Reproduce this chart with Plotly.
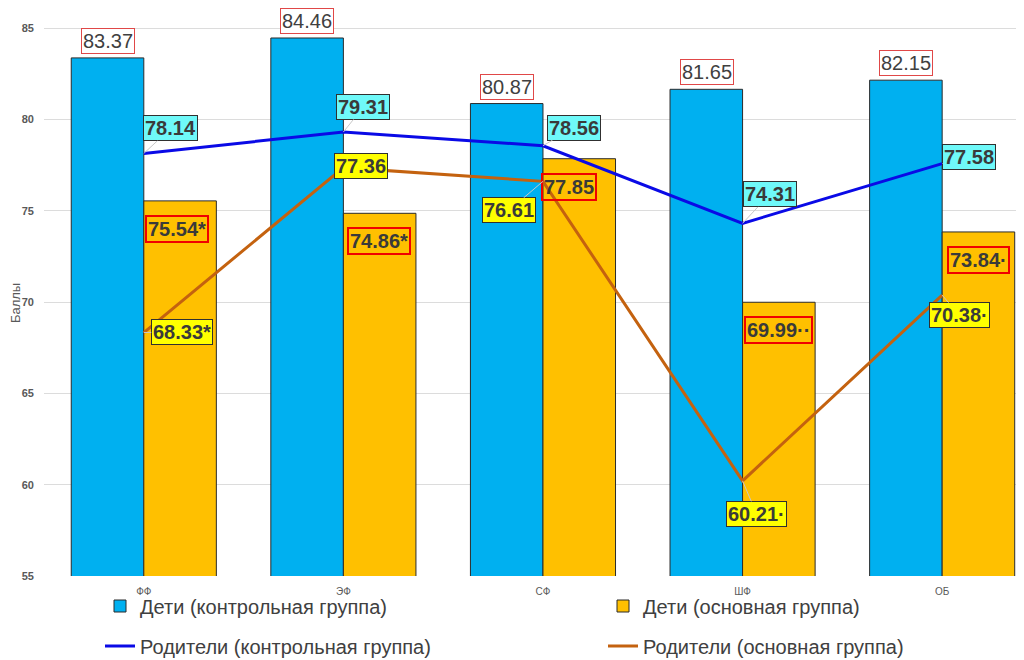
import plotly.graph_objects as go

categories = ["ФФ", "ЭФ", "СФ", "ШФ", "ОБ"]
kids_control = [83.37, 84.46, 80.87, 81.65, 82.15]
kids_main = [75.54, 74.86, 77.85, 69.99, 73.84]
parents_control = [78.14, 79.31, 78.56, 74.31, 77.58]
parents_main = [68.33, 77.36, 76.61, 60.21, 70.38]

kids_main_marks = ["*", "*", "", "··", "·"]
parents_main_marks = ["*", "", "", "·", "·"]

y_ticks = [55, 60, 65, 70, 75, 80, 85]

FONT = "Liberation Sans, Arial, sans-serif"
TXT = "#404040"
LBL = dict(family=FONT, size=20, color=TXT)
LBLB = dict(family=FONT, size=20, color="#3a3a3a", weight="bold")

fig = go.Figure()
fig.add_trace(go.Bar(
    x=categories, y=kids_control, name="Дети (контрольная группа)",
    marker=dict(color="#00B0F0", line=dict(color="#2b2b2b", width=1)),
    legend="legend", showlegend=True,
))
fig.add_trace(go.Bar(
    x=categories, y=kids_main, name="Дети (основная группа)",
    marker=dict(color="#FFC000", line=dict(color="#2b2b2b", width=1)),
    legend="legend2", showlegend=True,
))
fig.add_trace(go.Scatter(
    x=categories, y=parents_control, name="Родители (контрольная группа)",
    mode="lines", line=dict(color="#0A0AE6", width=3),
    legend="legend3", showlegend=True,
))
fig.add_trace(go.Scatter(
    x=categories, y=parents_main, name="Родители (основная группа)",
    mode="lines", line=dict(color="#C4620F", width=3),
    legend="legend4", showlegend=True,
))

annotations = []
# blue bar labels (above bars)
for i, v in enumerate(kids_control):
    annotations.append(dict(
        x=i, y=v, xref="x", yref="y", text=f"{v:.2f}", showarrow=False,
        xshift=-36, yshift=17, font=LBL,
        bgcolor="white", bordercolor="#E04848", borderwidth=1, borderpad=1,
    ))
# orange bar labels (inside, near top)
kids_main_shift = [-3, 0, -10, 0, 0]
for i, v in enumerate(kids_main):
    annotations.append(dict(
        x=i, y=v, xref="x", yref="y", text=f"{v:.2f}{kids_main_marks[i]}", showarrow=False,
        xshift=36 + kids_main_shift[i], yshift=-28, font=LBLB,
        bordercolor="#F00000", borderwidth=2, borderpad=1,
    ))
# blue line labels
pc_off = [(27, -25), (20, -25), (31, -18), (27, -29), (27, -7)]
for i, v in enumerate(parents_control):
    ax, ay = pc_off[i]
    annotations.append(dict(
        x=i, y=v, xref="x", yref="y", text=f"{v:.2f}", showarrow=True,
        arrowhead=0, arrowwidth=1, arrowcolor="#C8C8C8", ax=ax, ay=ay, font=LBLB,
        bgcolor="#6FF9F9", bordercolor="#303030", borderwidth=1, borderpad=1,
    ))
# orange line labels
pm_off = [(38, -1), (18, -2), (-34, 29), (14, 33), (17, 20)]
for i, v in enumerate(parents_main):
    ax, ay = pm_off[i]
    annotations.append(dict(
        x=i, y=v, xref="x", yref="y", text=f"{v:.2f}{parents_main_marks[i]}", showarrow=True,
        arrowhead=0, arrowwidth=1, arrowcolor="#C8C8C8", ax=ax, ay=ay, font=LBLB,
        bgcolor="#FFFF00", bordercolor="#303030", borderwidth=1, borderpad=1,
    ))

# page offset of the figure inside the browser page
OFF = 8
L, T, PW, PH = 44 - OFF, 19 - OFF, 976, 557

annotations.append(dict(
    text="Баллы", xref="paper", yref="paper", x=(7 - L) / PW, y=0.49, showarrow=False,
    textangle=-90, font=dict(family=FONT, size=13, color="#595959"),
    xanchor="center", yanchor="middle",
))


def leg(px, py):
    # px, py: reference pixel where the legend box starts / row centre
    fx, fy = px - OFF, py - OFF
    return dict(
        orientation="h", x=(fx - L) / PW, y=(T + PH - fy) / PH,
        xanchor="left", yanchor="middle", xref="paper", yref="paper",
        font=dict(family=FONT, size=20, color=TXT), itemwidth=30,
        bgcolor="rgba(0,0,0,0)", borderwidth=0,
    )


fig.update_layout(
    width=1024, height=660, showlegend=True,
    margin=dict(l=L, r=1024 - L - PW, t=T, b=660 - T - PH, autoexpand=False),
    paper_bgcolor="white", plot_bgcolor="white",
    barmode="group", bargap=0.273, bargroupgap=0,
    font=dict(family=FONT, color=TXT),
    xaxis=dict(
        type="category", range=[-0.5, 4.39], showgrid=False, zeroline=False,
        showline=False, ticks="", ticklabelstandoff=8,
        tickfont=dict(family=FONT, size=10, color="#595959"),
    ),
    yaxis=dict(
        range=[55, 85.5], tickvals=y_ticks, showgrid=True, gridcolor="#DCDCDC",
        gridwidth=1, zeroline=False, showline=False, ticks="", ticklabelstandoff=9,
        tickfont=dict(family=FONT, size=11, color="#595959", weight="bold"),
    ),
    legend=leg(100, 606),
    legend2=leg(603, 606),
    legend3=leg(100, 646),
    legend4=leg(603, 646),
    annotations=annotations,
)

fig.write_html("out.html")
